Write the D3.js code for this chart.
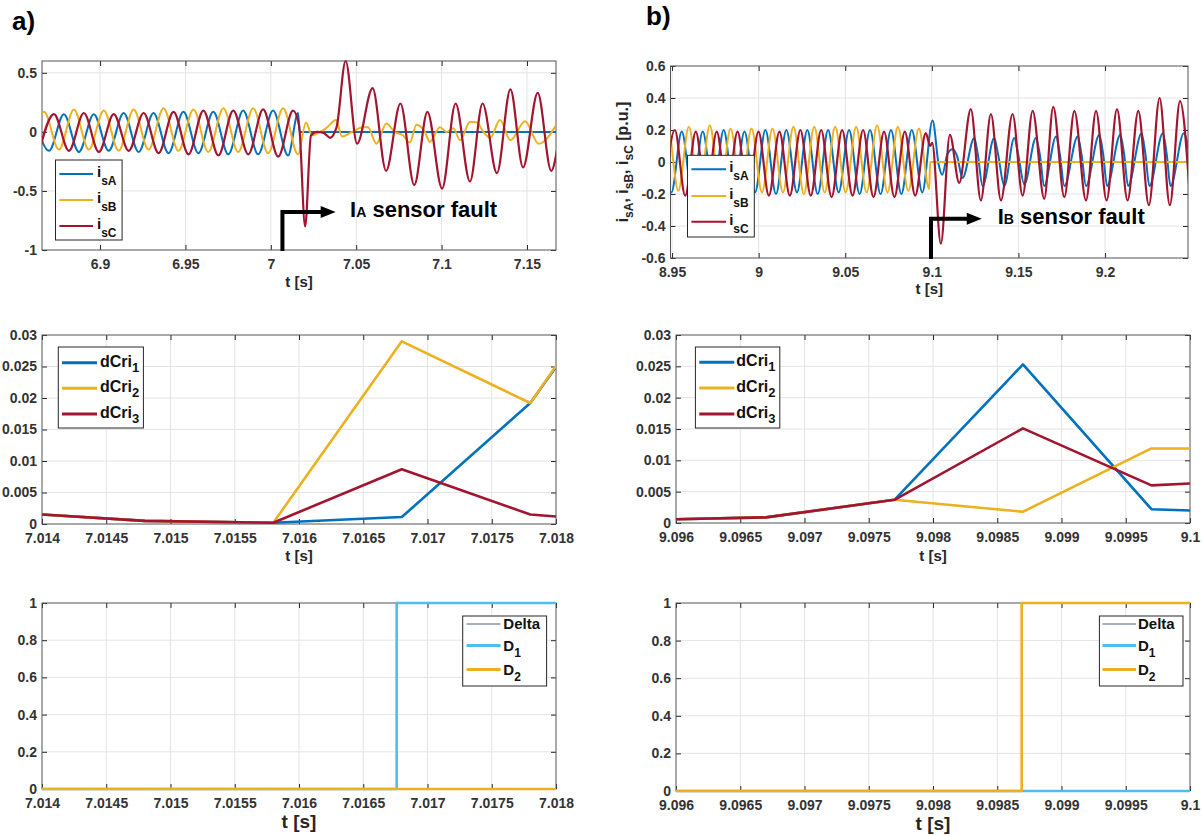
<!DOCTYPE html>
<html>
<head>
<meta charset="utf-8">
<script src="https://cdn.jsdelivr.net/npm/d3@7"></script>
<style>
  body { margin: 0; background: #fff; }
  svg text { font-family: "Liberation Sans", Arial, sans-serif; font-weight: bold; }
</style>
</head>
<body>
<div id="chart"></div>
<script>
// ---- a) phase currents around the I_A sensor fault: extrema [t, value]
const isA_a = [[6.8613, 0.15], [6.8701, -0.16], [6.8788, 0.15], [6.8876, -0.17], [6.8963, 0.15], [6.9051, -0.16],
  [6.9138, 0.16], [6.9226, -0.17], [6.9313, 0.16], [6.9401, -0.18], [6.9488, 0.17], [6.9576, -0.18], [6.9663, 0.17],
  [6.9751, -0.19], [6.9838, 0.18], [6.9926, -0.19], [7.0013, 0.18], [7.0101, -0.20], [7.0160, 0.16], [7.0168, 0.0],
  [7.1700, 0.0]];
const isB_a = [[6.8585, -0.14], [6.8672, 0.17], [6.8759, -0.15], [6.8847, 0.19], [6.8934, -0.15], [6.9022, 0.18],
  [6.9109, -0.16], [6.9197, 0.19], [6.9284, -0.15], [6.9372, 0.20], [6.9459, -0.16], [6.9547, 0.19], [6.9634, -0.17],
  [6.9722, 0.20], [6.9809, -0.17], [6.9897, 0.20], [6.9984, -0.18], [7.0072, 0.20], [7.0159, -0.19], [7.0206, 0.08],
  [7.0241, -0.03], [7.0289, 0.0], [7.0323, 0.03], [7.0382, 0.10], [7.0417, -0.04], [7.0475, 0.0], [7.0539, 0.04],
  [7.0569, 0.04], [7.0618, -0.10], [7.0677, 0.07], [7.0725, 0.0], [7.0775, -0.03], [7.0814, -0.09], [7.0853, 0.06],
  [7.0902, 0.0], [7.0931, -0.085], [7.0990, 0.04], [7.1029, 0.0], [7.1069, 0.03], [7.1108, -0.07], [7.1167, 0.085],
  [7.1206, 0.08], [7.1245, 0.0], [7.1285, -0.05], [7.1342, 0.10], [7.1403, -0.07], [7.1489, 0.09], [7.1568, -0.10],
  [7.1680, 0.08]];
const isC_a = [[6.8643, -0.17], [6.8730, 0.15], [6.8818, -0.16], [6.8905, 0.16], [6.8993, -0.17], [6.9080, 0.15],
  [6.9168, -0.16], [6.9255, 0.16], [6.9343, -0.18], [6.9430, 0.17], [6.9518, -0.19], [6.9605, 0.18], [6.9693, -0.20],
  [6.9780, 0.18], [6.9868, -0.19], [6.9955, 0.19], [7.0043, -0.21], [7.0130, 0.18], [7.0165, 0.06], [7.0201, -0.80],
  [7.0235, -0.03], [7.0270, 0.0], [7.0310, -0.01], [7.0347, -0.05], [7.0385, 0.04], [7.0438, 0.60], [7.0505, -0.10],
  [7.0596, 0.37], [7.0675, -0.33], [7.0759, 0.24], [7.0840, -0.45], [7.0917, 0.17], [7.1003, -0.48], [7.1082, 0.24],
  [7.1166, -0.42], [7.1240, 0.24], [7.1324, -0.35], [7.1403, 0.36], [7.1477, -0.30], [7.1563, 0.33], [7.1642, -0.33],
  [7.1680, -0.12]];

// ---- b) phase currents around the I_B sensor fault
const isA_b = [[8.9435, 0.19], [8.9496, -0.19], [8.9556, 0.19], [8.9617, -0.20], [8.9677, 0.19], [8.9738, -0.19],
  [8.9798, 0.20], [8.9858, -0.20], [8.9918, 0.19], [8.9979, -0.19], [9.0039, 0.20], [9.0100, -0.20], [9.0160, 0.20],
  [9.0221, -0.19], [9.0281, 0.20], [9.0341, -0.20], [9.0401, 0.20], [9.0462, -0.19], [9.0522, 0.20], [9.0583, -0.20],
  [9.0643, 0.20], [9.0704, -0.20], [9.0764, 0.20], [9.0824, -0.20], [9.0884, 0.20], [9.0945, -0.19], [9.1004, 0.26],
  [9.1040, -0.02], [9.1060, -0.08], [9.1090, 0.05], [9.1120, 0.08], [9.1145, 0.04], [9.1177, -0.10], [9.1245, 0.15],
  [9.1265, 0.05], [9.1293, -0.15], [9.1360, 0.15], [9.1382, 0.05], [9.1418, -0.15], [9.1476, 0.15], [9.1498, 0.05],
  [9.1534, -0.14], [9.1601, 0.15], [9.1623, 0.05], [9.1649, -0.15], [9.1717, 0.16], [9.1739, 0.05], [9.1765, -0.15],
  [9.1842, 0.16], [9.1864, 0.05], [9.1890, -0.15], [9.1967, 0.17], [9.1989, 0.05], [9.2012, -0.15], [9.2088, 0.17],
  [9.2110, 0.05], [9.2133, -0.15], [9.2211, 0.18], [9.2233, 0.05], [9.2256, -0.15], [9.2334, 0.18], [9.2356, 0.05],
  [9.2378, -0.15], [9.2455, 0.18], [9.2490, 0.02]];
const isB_b = [[8.9416, -0.19], [8.9476, 0.21], [8.9536, -0.18], [8.9597, 0.22], [8.9657, -0.19], [8.9718, 0.23],
  [8.9778, -0.19], [8.9838, 0.21], [8.9898, -0.18], [8.9959, 0.21], [9.0019, -0.19], [9.0080, 0.21], [9.0140, -0.19],
  [9.0201, 0.22], [9.0261, -0.20], [9.0321, 0.22], [9.0381, -0.19], [9.0442, 0.22], [9.0502, -0.19], [9.0563, 0.22],
  [9.0623, -0.19], [9.0684, 0.23], [9.0744, -0.19], [9.0804, 0.22], [9.0864, -0.18], [9.0925, 0.21], [9.0985, -0.17],
  [9.0990, 0.0], [9.2500, 0.0]];
const isC_b = [[8.9456, -0.20], [8.9516, 0.20], [8.9576, -0.21], [8.9637, 0.19], [8.9697, -0.22], [8.9758, 0.19],
  [8.9818, -0.21], [8.9878, 0.19], [8.9938, -0.21], [8.9999, 0.19], [9.0059, -0.21], [9.0120, 0.19], [9.0180, -0.21],
  [9.0241, 0.20], [9.0301, -0.21], [9.0361, 0.20], [9.0421, -0.22], [9.0482, 0.20], [9.0542, -0.21], [9.0603, 0.20],
  [9.0663, -0.22], [9.0724, 0.19], [9.0784, -0.22], [9.0844, 0.19], [9.0904, -0.21], [9.0965, 0.18], [9.0990, 0.10],
  [9.1002, 0.12], [9.1052, -0.51], [9.1104, 0.17], [9.1158, -0.13], [9.1225, 0.33], [9.1283, -0.24], [9.1341, 0.30],
  [9.1399, -0.24], [9.1466, 0.30], [9.1524, -0.21], [9.1582, 0.32], [9.1649, -0.23], [9.1701, 0.345], [9.1765, -0.22],
  [9.1823, 0.32], [9.1890, -0.24], [9.1948, 0.32], [9.2009, -0.24], [9.2069, 0.33], [9.2130, -0.24], [9.2192, 0.32],
  [9.2253, -0.27], [9.2315, 0.40], [9.2374, -0.27], [9.2433, 0.38], [9.2490, -0.22]];

// ---- criteria
const tCri_a = [7.014, 7.0148, 7.0158, 7.0168, 7.0178, 7.018];
const dCri1_a = [0.0015, 0.0005, 0.0002, 0.0011, 0.0192, 0.0249];
const dCri2_a = [0.0015, 0.0005, 0.0002, 0.0290, 0.0192, 0.0251];
const dCri3_a = [0.0015, 0.0005, 0.0002, 0.0087, 0.0015, 0.0012];
const tCri_b = [9.096, 9.0967, 9.0977, 9.0987, 9.0997, 9.1];
const dCri1_b = [0.0006, 0.0009, 0.0037, 0.0253, 0.0022, 0.0020];
const dCri2_b = [0.0006, 0.0009, 0.0037, 0.0018, 0.0119, 0.0119];
const dCri3_b = [0.0006, 0.0009, 0.0037, 0.0151, 0.0060, 0.0063];

// ---- detection flags (step after)
const tD_a = [7.014, 7.01676, 7.018];
const delta_a = [0, 0, 0];
const D1_a = [0, 1, 1];
const D2_a = [0, 0, 0];
const tD_b = [9.096, 9.09869, 9.1];
const delta_b = [0, 0, 0];
const D1_b = [0, 0, 0];
const D2_b = [0, 1, 1];

// ---- ticks
const xTicksTopA = [6.9, 6.95, 7, 7.05, 7.1, 7.15];
const yTicksTopA = [-1, -0.5, 0, 0.5];
const xTicksTopB = [8.95, 9, 9.05, 9.1, 9.15, 9.2];
const yTicksTopB = [-0.6, -0.4, -0.2, 0, 0.2, 0.4, 0.6];
const xTicksA = [7.014, 7.0145, 7.015, 7.0155, 7.016, 7.0165, 7.017, 7.0175, 7.018];
const xTicksB = [9.096, 9.0965, 9.097, 9.0975, 9.098, 9.0985, 9.099, 9.0995, 9.1];
const yTicksCri = [0, 0.005, 0.01, 0.015, 0.02, 0.025, 0.03];
const yTicksD = [0, 0.2, 0.4, 0.6, 0.8, 1];

const BLUE = '#0072BD', YELLOW = '#EDB120', RED = '#A2142F', CYAN = '#4DBEEE', DELTA = '#46648c';
const INK = '#262626';

const svg = d3.select('#chart').append('svg').attr('width', 1203).attr('height', 836);
const fmt = d => d3.format('~g')(d).replace('\u2212', '-');
let nClip = 0;

const panel = (box, xDomain, yDomain, xTicks, yTicks) => {
  const x = d3.scaleLinear().domain(xDomain).range([box.left, box.right]);
  const y = d3.scaleLinear().domain(yDomain).range([box.bottom, box.top]);
  const g = svg.append('g');
  const clip = 'clip' + (nClip++);
  g.append('clipPath').attr('id', clip).append('rect')
    .attr('x', box.left).attr('y', box.top - 2)
    .attr('width', box.right - box.left).attr('height', box.bottom - box.top + 4);
  const grid = g.append('g').attr('stroke', '#e4e4e4').attr('stroke-width', 1);
  grid.selectAll('.gx').data(xTicks.filter(d => x(d) > box.left + 1 && x(d) < box.right - 1)).enter()
    .append('line').attr('class', 'gx')
    .attr('x1', d => x(d)).attr('x2', d => x(d)).attr('y1', box.top).attr('y2', box.bottom);
  grid.selectAll('.gy').data(yTicks.filter(d => y(d) > box.top + 1 && y(d) < box.bottom - 1)).enter()
    .append('line').attr('class', 'gy')
    .attr('y1', d => y(d)).attr('y2', d => y(d)).attr('x1', box.left).attr('x2', box.right);
  const axes = [
    [d3.axisBottom(x).tickValues(xTicks).tickFormat(fmt).tickPadding(9), `translate(0,${box.bottom})`],
    [d3.axisTop(x).tickValues(xTicks).tickFormat(''), `translate(0,${box.top})`],
    [d3.axisLeft(y).tickValues(yTicks).tickFormat(fmt).tickPadding(5), `translate(${box.left},0)`],
    [d3.axisRight(y).tickValues(yTicks).tickFormat(''), `translate(${box.right},0)`],
  ];
  axes.forEach(([ax, tr]) => {
    const a = g.append('g').attr('transform', tr).call(ax.tickSizeInner(-5).tickSizeOuter(0));
    a.select('.domain').remove();
    a.selectAll('line').attr('stroke', INK);
    a.selectAll('text').style('font-size', '14px').attr('fill', '#333');
  });
  g.append('rect').attr('x', box.left).attr('y', box.top)
    .attr('width', box.right - box.left).attr('height', box.bottom - box.top)
    .attr('fill', 'none').attr('stroke', '#555').attr('stroke-width', 1);
  return { g, x, y, clip, box };
};

const drawLine = (P, data, color, width, curve) => {
  const line = d3.line().x(d => P.x(d[0])).y(d => P.y(d[1])).curve(curve);
  P.g.append('path').datum(data).attr('clip-path', `url(#${P.clip})`)
    .attr('d', line).attr('fill', 'none').attr('stroke', color)
    .attr('stroke-width', width).attr('stroke-linejoin', 'round');
};

const xTitle = (P, baseline, size) => {
  P.g.append('text').attr('x', (P.box.left + P.box.right) / 2).attr('y', baseline)
    .attr('text-anchor', 'middle').attr('fill', INK).style('font-size', size + 'px').text('t [s]');
};

const legend = (P, L, items) => {
  const g = P.g.append('g');
  g.append('rect').attr('x', L.x).attr('y', L.y).attr('width', L.w).attr('height', L.h)
    .attr('fill', '#fff').attr('stroke', INK).attr('stroke-width', 1);
  items.forEach((it, i) => {
    const cy = L.rows[i];
    g.append('line').attr('x1', L.lx0).attr('x2', L.lx1).attr('y1', cy).attr('y2', cy)
      .attr('stroke', it.color).attr('stroke-width', it.width);
    const t = g.append('text').attr('x', L.tx).attr('y', cy + L.base).attr('fill', '#111')
      .style('font-size', L.fs + 'px');
    t.append('tspan').text(it.name);
    if (it.sub) t.append('tspan').attr('dy', L.subDy).style('font-size', L.subFs + 'px').text(it.sub);
  });
};

const faultArrow = (P, t0, yArrow, tTip, tText, yText, phase) => {
  const x0 = P.x(t0), ya = P.y(yArrow), xt = P.x(tTip);
  P.g.append('path')
    .attr('d', `M${x0},${P.box.bottom + 1}V${ya}H${xt - 12}`)
    .attr('fill', 'none').attr('stroke', '#000').attr('stroke-width', 4);
  P.g.append('path')
    .attr('d', `M${xt - 15},${ya - 6}L${xt},${ya}L${xt - 15},${ya + 6}Z`).attr('fill', '#000');
  const t = P.g.append('text').attr('x', P.x(tText)).attr('y', P.y(yText)).attr('fill', '#000')
    .style('font-size', '22px');
  t.append('tspan').text('I');
  t.append('tspan').style('font-size', '14px').text(phase);
  t.append('tspan').text(' sensor fault');
};

// ---- panel labels
svg.append('text').attr('x', 12).attr('y', 30).attr('fill', '#000').style('font-size', '26px').text('a)');
svg.append('text').attr('x', 646).attr('y', 25).attr('fill', '#000').style('font-size', '26px').text('b)');

// ---- a) top
const TA = panel({ left: 42, right: 556, top: 61, bottom: 250 }, [6.866, 7.167], [-1, 0.6], xTicksTopA, yTicksTopA);
drawLine(TA, isA_a, BLUE, 2, d3.curveMonotoneX);
drawLine(TA, isB_a, YELLOW, 2, d3.curveMonotoneX);
drawLine(TA, isC_a, RED, 2.2, d3.curveMonotoneX);
xTitle(TA, 287, 15);
legend(TA, { x: 55.5, y: 160, w: 66.6, h: 80, rows: [174, 200, 226], lx0: 59.4, lx1: 93.1, tx: 97,
  fs: 15, subFs: 12, base: 3, subDy: 8 }, [
  { name: 'i', sub: 'sA', color: BLUE, width: 2 },
  { name: 'i', sub: 'sB', color: YELLOW, width: 2 },
  { name: 'i', sub: 'sC', color: RED, width: 2 },
]);
faultArrow(TA, 7.0068, -0.678, 7.038, 7.0464, -0.72, 'A');

// ---- b) top
const TB = panel({ left: 670.5, right: 1188, top: 66, bottom: 258 }, [8.9491, 9.2479], [-0.6, 0.6], xTicksTopB, yTicksTopB);
drawLine(TB, isA_b, BLUE, 2, d3.curveMonotoneX);
drawLine(TB, isB_b, YELLOW, 2, d3.curveMonotoneX);
drawLine(TB, isC_b, RED, 2.2, d3.curveMonotoneX);
xTitle(TB, 294, 15);
legend(TB, { x: 687.5, y: 155.3, w: 66.8, h: 81.7, rows: [169.3, 196, 221.7], lx0: 691.4, lx1: 726.1, tx: 729.2,
  fs: 15, subFs: 12, base: 3, subDy: 8 }, [
  { name: 'i', sub: 'sA', color: BLUE, width: 2 },
  { name: 'i', sub: 'sB', color: YELLOW, width: 2 },
  { name: 'i', sub: 'sC', color: RED, width: 2 },
]);
faultArrow(TB, 9.0995, -0.355, 9.1288, 9.138, -0.386, 'B');
const yl = TB.g.append('text').attr('transform', 'translate(628,162) rotate(-90)')
  .attr('text-anchor', 'middle').attr('fill', INK).style('font-size', '16px');
[['i', 'sA', ', '], ['i', 'sB', ', '], ['i', 'sC', ' [p.u.]']].forEach(([a, s, tail]) => {
  yl.append('tspan').text(a);
  yl.append('tspan').attr('dy', 5).style('font-size', '12px').text(s);
  yl.append('tspan').attr('dy', -5).text(tail);
});

// ---- a) middle
const MA = panel({ left: 42, right: 556, top: 335, bottom: 524 }, [7.014, 7.018], [0, 0.03], xTicksA, yTicksCri);
drawLine(MA, d3.zip(tCri_a, dCri1_a), BLUE, 2.6, d3.curveLinear);
drawLine(MA, d3.zip(tCri_a, dCri2_a), YELLOW, 2.6, d3.curveLinear);
drawLine(MA, d3.zip(tCri_a, dCri3_a), RED, 2.6, d3.curveLinear);
xTitle(MA, 561, 15);
legend(MA, { x: 58.3, y: 347, w: 85.1, h: 81, rows: [362.7, 388.3, 414], lx0: 62, lx1: 97, tx: 100,
  fs: 16, subFs: 13, base: 4, subDy: 5 }, [
  { name: 'dCri', sub: '1', color: BLUE, width: 3 },
  { name: 'dCri', sub: '2', color: YELLOW, width: 3 },
  { name: 'dCri', sub: '3', color: RED, width: 3 },
]);

// ---- b) middle
const MB = panel({ left: 676, right: 1190, top: 335, bottom: 523 }, [9.096, 9.1], [0, 0.03], xTicksB, yTicksCri);
drawLine(MB, d3.zip(tCri_b, dCri1_b), BLUE, 2.6, d3.curveLinear);
drawLine(MB, d3.zip(tCri_b, dCri2_b), YELLOW, 2.6, d3.curveLinear);
drawLine(MB, d3.zip(tCri_b, dCri3_b), RED, 2.6, d3.curveLinear);
xTitle(MB, 561, 15);
legend(MB, { x: 695.4, y: 347, w: 84.4, h: 81, rows: [362.3, 388, 414], lx0: 699.3, lx1: 734.3, tx: 736.3,
  fs: 16, subFs: 13, base: 4, subDy: 5 }, [
  { name: 'dCri', sub: '1', color: BLUE, width: 3 },
  { name: 'dCri', sub: '2', color: YELLOW, width: 3 },
  { name: 'dCri', sub: '3', color: RED, width: 3 },
]);

// ---- a) bottom
const BA = panel({ left: 42, right: 556, top: 603, bottom: 789 }, [7.014, 7.018], [0, 1], xTicksA, yTicksD);
drawLine(BA, d3.zip(tD_a, delta_a), DELTA, 1.2, d3.curveStepAfter);
drawLine(BA, d3.zip(tD_a, D1_a), CYAN, 2.6, d3.curveStepAfter);
drawLine(BA, d3.zip(tD_a, D2_a), YELLOW, 2.6, d3.curveStepAfter);
xTitle(BA, 828, 19);
legend(BA, { x: 462.7, y: 616, w: 83.9, h: 70, rows: [624, 645.5, 669.5], lx0: 466.5, lx1: 500.6, tx: 503.3,
  fs: 15, subFs: 12, base: 5, subDy: 6 }, [
  { name: 'Delta', sub: '', color: DELTA, width: 1.2 },
  { name: 'D', sub: '1', color: CYAN, width: 3 },
  { name: 'D', sub: '2', color: YELLOW, width: 3 },
]);

// ---- b) bottom
const BB = panel({ left: 676, right: 1190, top: 603, bottom: 791 }, [9.096, 9.1], [0, 1], xTicksB, yTicksD);
drawLine(BB, d3.zip(tD_b, delta_b), DELTA, 1.2, d3.curveStepAfter);
drawLine(BB, d3.zip(tD_b, D1_b), CYAN, 2.6, d3.curveStepAfter);
drawLine(BB, d3.zip(tD_b, D2_b), YELLOW, 2.6, d3.curveStepAfter);
xTitle(BB, 830, 19);
legend(BB, { x: 1099.4, y: 616, w: 83.6, h: 70, rows: [624, 645.5, 669.5], lx0: 1102.5, lx1: 1136, tx: 1138,
  fs: 15, subFs: 12, base: 5, subDy: 6 }, [
  { name: 'Delta', sub: '', color: DELTA, width: 1.2 },
  { name: 'D', sub: '1', color: CYAN, width: 3 },
  { name: 'D', sub: '2', color: YELLOW, width: 3 },
]);
</script>
</body>
</html>
